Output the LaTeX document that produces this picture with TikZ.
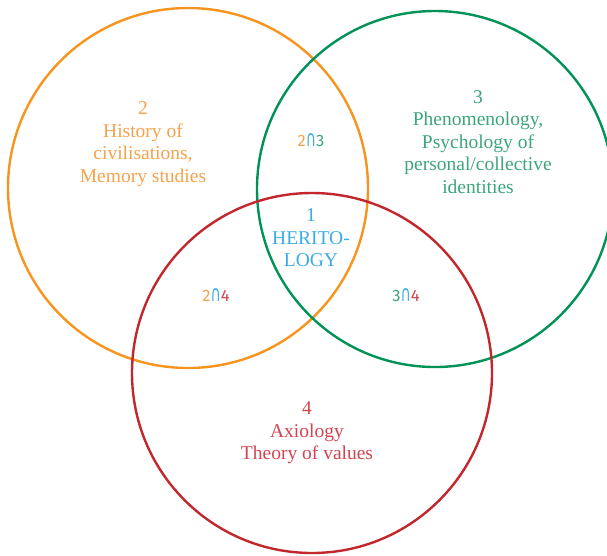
\documentclass[tikz,border=0pt]{standalone}
\usepackage{fontspec}
\setmainfont{Liberation Serif}
\newfontfamily\pairfont{Fira Sans}
\newfontfamily\capfont{DejaVu Sans}
\usepackage{xcolor}
\usepackage{graphicx}
\usepackage{tikz}
\definecolor{orangeline}{HTML}{F7941D}
\definecolor{orangetext}{HTML}{F6A14B}
\definecolor{greenline}{HTML}{009257}
\definecolor{greentext}{HTML}{3DA57A}
\definecolor{redline}{HTML}{C1272D}
\definecolor{redtext}{HTML}{D2444F}
\definecolor{bluetext}{HTML}{3AACE6}
\newcommand{\meet}[4]{\textcolor{#1}{#2}\textcolor{bluetext}{\scalebox{0.85}[1.35]{\capfont∩}}\textcolor{#3}{#4}}

\begin{document}
\begin{tikzpicture}[x=1pt, y=-1pt,
    ring/.style={line width=2.4pt},
    areatext/.style={align=center, inner sep=0pt, font=\fontsize{19.5}{22.5}\selectfont},
    pairtext/.style={inner sep=0pt, font=\pairfont\fontsize{16.5}{20}\selectfont}]
    \useasboundingbox (0,0) rectangle (607,555);
    % the three fields
    \draw[ring, orangeline] (188,188) circle[radius=180];
    \draw[ring, greenline] (435,189) circle[radius=178];
    \draw[ring, redline] (312,373) circle[radius=180];
    % field names
    \node[areatext, text=orangetext] (history) at (143,144)
        {2\\History of\\civilisations,\\Memory studies};
    \node[areatext, text=greentext] (phenom) at (478,142)
        {3\\Phenomenology,\\Psychology of\\personal/collective\\identities};
    \node[areatext, text=redtext] (axiology) at (307,433)
        {4\\Axiology\\Theory of values};
    \node[areatext, text=bluetext] (herit) at (311,238)
        {1\\HERITO-\\LOGY};
    % overlaps
    \node[pairtext] (hp) at (311,140) {\meet{orangetext}{2}{greentext}{3}};
    \node[pairtext] (ha) at (216,295) {\meet{orangetext}{2}{redtext}{4}};
    \node[pairtext] (pa) at (406,295) {\meet{greentext}{3}{redtext}{4}};
\end{tikzpicture}
\end{document}
